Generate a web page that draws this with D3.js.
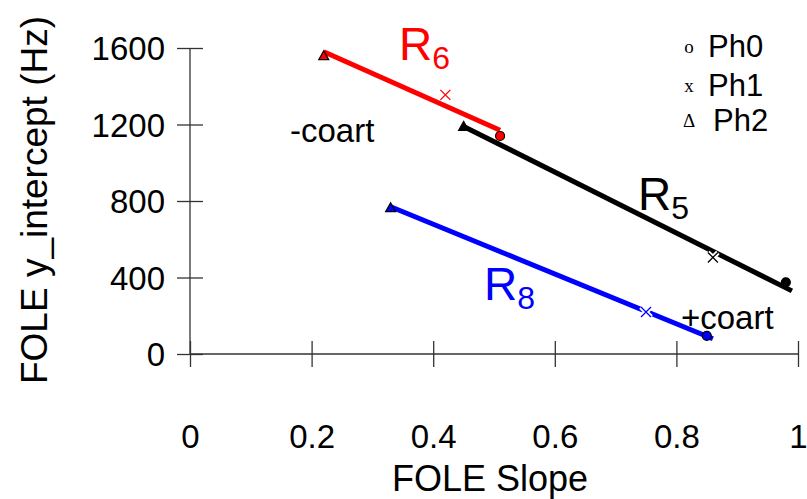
<!DOCTYPE html>
<html>
<head>
<meta charset="utf-8">
<script src="https://cdn.jsdelivr.net/npm/d3@7"></script>
<style>
  body { margin: 0; background: #fff; }
  svg text { font-family: "Liberation Sans", Arial, sans-serif; }
</style>
</head>
<body>
<svg id="chart" width="807" height="499"></svg>
<script>
// data
var seriesNames = ["R6", "R5", "R8"];
var seriesSub = ["6", "5", "8"];
var lineStartX = [0.22, 0.45, 0.33];
var lineStartY = [1580, 1190, 770];
var lineEndX = [0.51, 0.99, 0.86];
var lineEndY = [1170, 330, 80];
var ph0X = [0.51, 0.98, 0.85], ph0Y = [1140, 375, 95];
var ph1X = [0.42, 0.86, 0.75], ph1Y = [1355, 505, 220];
var ph2X = [0.22, 0.45, 0.33], ph2Y = [1560, 1190, 765];
var xTicks = [0, 0.2, 0.4, 0.6, 0.8, 1];
var yTicks = [0, 400, 800, 1200, 1600];
var legendLabels = ["Ph0", "Ph1", "Ph2"];
var legendSymbols = ["o", "x", "\u0394"];

var colors = ["#ff0000", "#000000", "#0000ff"];

var svg = d3.select("svg#chart");

var x = d3.scaleLinear().domain([0, 1]).range([190, 798]);
var y = d3.scaleLinear().domain([0, 1600]).range([354, 48]);

// axes, ticks cross the axis line
var xAxis = svg.append("g")
    .attr("transform", "translate(0," + y(0) + ")")
    .call(d3.axisBottom(x).tickValues(xTicks).tickSize(13).tickFormat(d3.format("")));
xAxis.selectAll(".tick line").attr("y1", -13);
xAxis.select(".domain").attr("d", "M" + x(0) + ",0H" + x(1));
xAxis.selectAll(".tick text")
    .attr("y", 94)
    .attr("dy", 0)
    .style("font-size", "33px")
    .attr("fill", "#000");

var yAxis = svg.append("g")
    .attr("transform", "translate(" + x(0) + ",0)")
    .call(d3.axisLeft(y).tickValues(yTicks).tickSize(13).tickFormat(d3.format("d")));
yAxis.selectAll(".tick line").attr("x1", 13);
yAxis.select(".domain").attr("d", "M0," + y(0) + "V" + y(1600));
yAxis.selectAll(".tick text")
    .attr("x", -25)
    .attr("dy", "0.36em")
    .style("font-size", "33px")
    .attr("fill", "#000");

svg.selectAll(".domain, .tick line").attr("stroke", "#333").attr("stroke-width", 1.3);

// axis titles
svg.append("text")
    .attr("x", 490)
    .attr("y", 491)
    .attr("text-anchor", "middle")
    .style("font-size", "36px")
    .text("FOLE Slope");

svg.append("text")
    .attr("transform", "translate(47,200) rotate(-90)")
    .attr("text-anchor", "middle")
    .style("font-size", "37px")
    .text("FOLE y_intercept (Hz)");

// fit lines
var idx = d3.range(seriesNames.length);
svg.append("g").selectAll("line")
    .data(idx)
    .enter()
    .append("line")
    .attr("x1", i => x(lineStartX[i]))
    .attr("y1", i => y(lineStartY[i]))
    .attr("x2", i => x(lineEndX[i]))
    .attr("y2", i => y(lineEndY[i]))
    .attr("stroke", i => colors[i])
    .attr("stroke-width", 5);

// Ph1 crosses, with a white halo cutting the line
var cross = svg.append("g");
idx.forEach(i => {
    var cx = x(ph1X[i]), cy = y(ph1Y[i]);
    var p = "M" + (cx - 5) + "," + (cy - 5) + "L" + (cx + 5) + "," + (cy + 5) +
            "M" + (cx - 5) + "," + (cy + 5) + "L" + (cx + 5) + "," + (cy - 5);
    cross.append("path").attr("d", p).attr("stroke", "#fff").attr("stroke-width", 5);
    cross.append("path").attr("d", p).attr("stroke", colors[i]).attr("stroke-width", 1.3);
});

// Ph0 circles
svg.append("g").selectAll("circle")
    .data(idx)
    .enter()
    .append("circle")
    .attr("cx", i => x(ph0X[i]))
    .attr("cy", i => y(ph0Y[i]))
    .attr("r", 4.5)
    .attr("fill", i => colors[i])
    .attr("stroke", "#000")
    .attr("stroke-width", 1.2);

// Ph2 triangles
svg.append("g").selectAll("path")
    .data(idx)
    .enter()
    .append("path")
    .attr("transform", i => "translate(" + x(ph2X[i]) + "," + y(ph2Y[i]) + ")")
    .attr("d", "M0,-5L5,4L-5,4Z")
    .attr("fill", i => colors[i])
    .attr("stroke", "#000")
    .attr("stroke-width", 1.2);

// series labels R with subscript
var labelPos = [[399, 60], [638, 210], [484, 300]];
idx.forEach(i => {
    var t = svg.append("text")
        .attr("x", labelPos[i][0])
        .attr("y", labelPos[i][1])
        .attr("fill", colors[i])
        .style("font-size", "46px")
        .text("R");
    t.append("tspan")
        .attr("dy", 9)
        .style("font-size", "32px")
        .text(seriesSub[i]);
});

// annotations
svg.append("text").attr("x", 290).attr("y", 142).style("font-size", "33px").text("-coart");
svg.append("text").attr("x", 681).attr("y", 329).style("font-size", "33px").text("+coart");

// legend
var legend = svg.append("g");
legendLabels.forEach((d, i) => {
    var ly = [57, 96, 131][i];
    legend.append("text")
        .attr("x", 689)
        .attr("y", ly - 4)
        .attr("text-anchor", "middle")
        .style("font-family", "'Liberation Serif', serif")
        .style("font-size", "19px")
        .text(legendSymbols[i]);
    legend.append("text")
        .attr("x", [708, 708, 713][i])
        .attr("y", ly)
        .style("font-size", "31px")
        .text(d);
});
</script>
</body>
</html>
